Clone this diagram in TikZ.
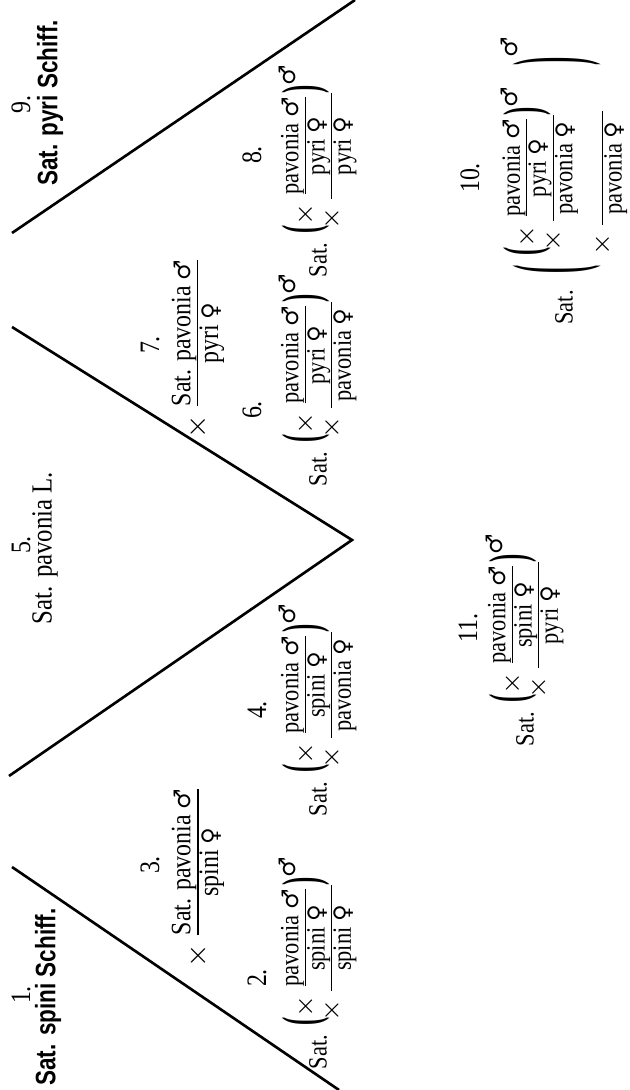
\documentclass[tikz,border=0pt]{standalone}
\usepackage{amsmath}
\usepackage{graphicx}
\usepackage{fontspec}
\setmainfont[FakeStretch=0.85]{Liberation Serif}
\newfontfamily\titlefont[FakeStretch=0.8]{Liberation Sans}
\newfontfamily\symfont{DejaVu Sans}
\usetikzlibrary{positioning}

\newcommand{\mas}{{\symfont\fontsize{6.5}{7}\selectfont ♂}}
\newcommand{\fem}{{\symfont\fontsize{6.5}{7}\selectfont ♀}}
\newcommand{\tx}[1]{\mbox{#1}}
% heavy brackets, stretched to #1 times their height
\newcommand{\lpar}[1]{\vcenter{\hbox{\scalebox{1.1}[#1]{\bfseries(}}}}
\newcommand{\rpar}[1]{\vcenter{\hbox{\scalebox{1.1}[#1]{\bfseries)}}}}
% cross: the sign sits left of the bar
\newcommand{\hyb}[2]{\llap{$\times\,$}\genfrac{}{}{0.3pt}{1}{\textstyle #1}{\textstyle #2}}
% bracket round a cross, male sign after it
\newcommand{\grp}[1]{\llap{$\lpar{2}\hphantom{\times\,}$}#1\rlap{$\rpar{2}$\raisebox{4.5pt}{\mas}}}
\newcommand{\Grp}[1]{\llap{\raisebox{-1pt}{$\lpar{3.7}$}\kern4pt$\hphantom{\times\,}$}#1%
  \rlap{\kern13pt\raisebox{-1pt}{$\rpar{3.7}$}\raisebox{12pt}{\mas}}}

\begin{document}
\begin{tikzpicture}[x=0.1mm, y=0.1mm,
  lab/.style={font=\fontsize{8}{9}\selectfont, inner sep=0pt},
  ttl/.style={font=\titlefont\bfseries\fontsize{8}{9}\selectfont, inner sep=0pt},
  txt/.style={font=\fontsize{7.5}{9}\selectfont, inner sep=0pt},
  divide/.style={line width=0.75pt}
]
\useasboundingbox (0,0) rectangle (630,1090);
\begin{scope}[shift={(630,0)}, rotate=90, transform shape]

% Parents
\node[lab] (n1) at (95,609) {1.};
\node[ttl] (t1) at (93,582) {Sat. spini Schiff.};
\node[lab] (n5) at (545,609) {5.};
\node[lab, font=\fontsize{8.3}{10}\selectfont] (t5) at (542,585) {Sat. pavonia L.};
\node[lab] (n9) at (985,609) {9.};
\node[ttl] (t9) at (987,580) {Sat. pyri Schiff.};

% Dividing lines
\coordinate (l1a) at (223,618);
\coordinate (l1b) at (0,291);
\coordinate (l2a) at (314,621);
\coordinate (vtx) at (550,278);
\coordinate (l3a) at (763,618);
\coordinate (l4a) at (857,618);
\coordinate (l4b) at (1090,275);
\draw[divide] (l1a) -- (l1b);
\draw[divide] (l2a) -- (vtx) -- (l3a);
\draw[divide] (l4a) -- (l4b);

% First crosses
\node[lab] (n3) at (225,480) {3.};
\node[txt, font=\fontsize{8}{9}\selectfont] (f3) at (228,432) {$\hyb{\tx{Sat. pavonia \mas}}{\tx{spini \fem}}$};
\node[lab] (n7) at (745,480) {7.};
\node[txt, font=\fontsize{8}{9}\selectfont] (f7) at (757,432) {$\hyb{\tx{Sat. pavonia \mas}}{\tx{pyri \fem}}$};

% Back crosses
\node[lab] (n2) at (112,373) {2.};
\node[txt] (f2) at (152,312) {$\hyb{\grp{\hyb{\tx{pavonia \mas}}{\tx{spini \fem}}}}{\tx{spini \fem}}$};
\node[txt, left=11pt of f2] (s2) {Sat.};

\node[lab] (n4) at (380,373) {4.};
\node[txt] (f4) at (405,312) {$\hyb{\grp{\hyb{\tx{pavonia \mas}}{\tx{spini \fem}}}}{\tx{pavonia \fem}}$};
\node[txt, left=11pt of f4] (s4) {Sat.};

\node[lab] (n6) at (680,378) {6.};
\node[txt] (f6) at (735,312) {$\hyb{\grp{\hyb{\tx{pavonia \mas}}{\tx{pyri \fem}}}}{\tx{pavonia \fem}}$};
\node[txt, left=11pt of f6] (s6) {Sat.};

\node[lab] (n8) at (935,378) {8.};
\node[txt] (f8) at (944,312) {$\hyb{\grp{\hyb{\tx{pavonia \mas}}{\tx{pyri \fem}}}}{\tx{pyri \fem}}$};
\node[txt, left=11pt of f8] (s8) {Sat.};

% Further crosses
\node[lab] (n11) at (462,162) {11.};
\node[txt] (f11) at (475,105) {$\hyb{\grp{\hyb{\tx{pavonia \mas}}{\tx{spini \fem}}}}{\tx{pyri \fem}}$};
\node[txt, left=11pt of f11] (s11) {Sat.};

\node[lab] (n10) at (912,160) {10.};
\node[txt] (f10) at (922,66) {$\hyb{\Grp{\hyb{\grp{\hyb{\tx{pavonia \mas}}{\tx{pyri \fem}}}}{\tx{pavonia \fem}}}}{\tx{pavonia \fem}}$};
\node[txt, left=17pt of f10] (s10) {Sat.};

\end{scope}
\end{tikzpicture}
\end{document}
